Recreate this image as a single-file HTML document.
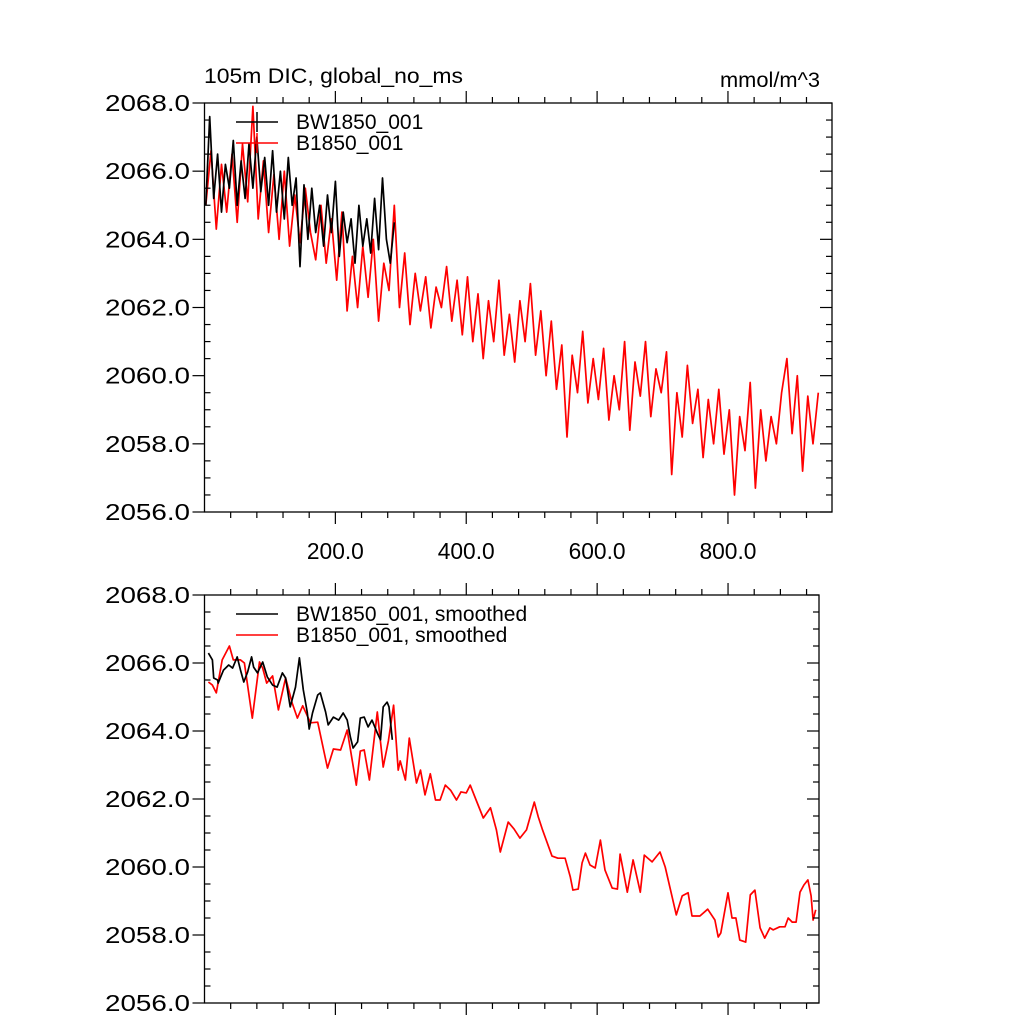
<!DOCTYPE html>
<html><head><meta charset="utf-8"><style>
html,body{margin:0;padding:0;background:#fff;}
svg text{font-family:"Liberation Sans",sans-serif;}
</style></head><body>
<svg id="chart" width="1024" height="1024" viewBox="0 0 1024 1024" xmlns="http://www.w3.org/2000/svg">
<text x="204" y="83" font-size="21" textLength="259" lengthAdjust="spacingAndGlyphs">105m DIC, global_no_ms</text>
<text x="720" y="87" font-size="21" textLength="100" lengthAdjust="spacingAndGlyphs">mmol/m^3</text>
<g id="top"></g>
<g id="bot"></g>
</svg>
<script>
// ---- data ----
const xTickValues = [200, 400, 600, 800];
const xTickLabels = ["200.0", "400.0", "600.0", "800.0"];
const yTickValues = [2056, 2058, 2060, 2062, 2064, 2066, 2068];
const yTickLabels = ["2056.0", "2058.0", "2060.0", "2062.0", "2064.0", "2066.0", "2068.0"];
const redRawStart = 2, redRawStep = 8;
const redRaw = [2065.0,2066.6,2064.3,2066.2,2064.8,2066.5,2064.5,2066.8,2065.1,2067.9,2064.6,2066.3,2064.2,
2065.9,2064.0,2066.0,2063.8,2065.3,2063.9,2065.5,2064.2,2063.4,2065.0,2063.3,2064.6,
2062.8,2064.8,2061.9,2063.5,2062.0,2063.8,2062.3,2064.0,2061.6,2063.3,2062.5,2065.0,
2062.0,2063.6,2061.5,2063.0,2061.9,2062.9,2061.4,2062.6,2062.0,2063.2,2061.6,2062.8,2061.2,
2062.9,2061.0,2062.4,2060.5,2062.2,2061.0,2062.8,2060.6,2061.8,2060.4,2062.2,2061.0,2062.7,
2060.6,2061.9,2060.0,2061.6,2059.6,2060.9,2058.2,2060.6,2059.5,2061.3,2059.2,2060.5,
2059.3,2060.8,2058.7,2060.0,2059.0,2061.0,2058.4,2060.4,2059.4,2061.0,2058.8,2060.2,2059.5,
2060.7,2057.1,2059.5,2058.2,2060.3,2058.6,2059.6,2057.6,2059.3,2058.0,2059.6,2057.7,2059.0,
2056.5,2058.8,2057.8,2059.8,2056.7,2059.0,2057.5,2058.8,2058.0,2059.5,2060.5,2058.3,2060.0,2057.2,2059.4,2058.0,2059.5];
const blackRawStart = 2, blackRawStep = 6;
const blackRaw = [2065.0,2067.6,2065.2,2066.5,2064.8,2066.2,2065.5,2066.9,2065.0,2066.3,2065.2,2066.8,2065.5,2067.0,2065.4,2066.4,2065.0,2066.6,2064.8,2066.0,2064.6,2066.4,2065.0,2065.8,2063.2,2065.6,2064.0,2065.5,2064.2,2065.0,2063.8,2065.3,2064.2,2065.7,2063.5,2064.8,2063.9,2064.6,2063.3,2065.0,2063.8,2064.6,2063.6,2065.2,2063.7,2065.8,2064.0,2063.3,2064.5];
const redSmoothX = [6,12,18,27,38,44,55,61,73,84,89,95,104,113,124,134,142,150,162,173,188,197,208,218,232,238,244,252,264,273,281,289,296,299,307,313,324,330,337,345,353,360,368,376,385,392,400,406,415,426,437,446,452,464,473,482,492,504,510,516,531,540,551,559,563,571,577,582,589,597,605,612,623,631,635,646,655,666,672,684,696,704,721,730,739,745,757,769,780,785,789,800,806,812,818,827,834,841,849,856,864,869,879,887,892,898,904,910,916,922,927,930,934];
const redSmoothY = [2065.44,2065.35,2065.12,2066.09,2066.5,2066.09,2066.09,2066.0,2064.38,2066.03,2065.85,2065.41,2065.62,2064.62,2065.56,2064.82,2064.38,2064.74,2064.24,2064.26,2062.91,2063.47,2063.44,2064.03,2062.41,2063.41,2063.44,2062.56,2064.56,2062.94,2063.71,2064.76,2062.85,2063.12,2062.56,2063.79,2062.47,2062.85,2062.12,2062.74,2061.97,2061.97,2062.41,2062.26,2061.97,2062.21,2062.18,2062.41,2061.97,2061.44,2061.74,2061.09,2060.44,2061.32,2061.12,2060.85,2061.09,2061.91,2061.47,2061.12,2060.32,2060.26,2060.26,2059.71,2059.32,2059.35,2060.12,2060.41,2060.06,2059.97,2060.79,2059.91,2059.38,2059.35,2060.38,2059.26,2060.21,2059.26,2060.35,2060.15,2060.44,2060.0,2058.59,2059.15,2059.24,2058.56,2058.56,2058.76,2058.44,2057.94,2058.06,2059.24,2058.5,2058.5,2057.85,2057.79,2059.18,2059.32,2058.21,2057.91,2058.21,2058.15,2058.24,2058.24,2058.5,2058.38,2058.38,2059.26,2059.47,2059.62,2059.15,2058.44,2058.74];
const blackSmoothX = [6,12,14,20,21,29,37,43,50,55,60,66,72,75,81,89,96,104,111,119,124,131,139,145,151,157,160,165,173,177,185,189,197,205,212,218,223,227,234,238,244,250,256,264,269,273,279,282,287];
const blackSmoothY = [2066.29,2066.09,2065.56,2065.5,2065.41,2065.79,2065.94,2065.85,2066.18,2065.79,2065.44,2065.74,2066.18,2065.88,2065.71,2066.03,2065.59,2065.35,2065.29,2065.71,2065.56,2064.71,2065.29,2066.15,2065.21,2064.56,2064.06,2064.53,2065.06,2065.12,2064.56,2064.18,2064.41,2064.32,2064.53,2064.32,2063.82,2063.5,2063.68,2064.38,2064.41,2064.12,2064.32,2063.94,2063.74,2064.71,2064.85,2064.71,2063.74];

const NS = "http://www.w3.org/2000/svg";
function mk(parent, tag, attrs){const e=document.createElementNS(NS,tag);for(const k in attrs)e.setAttribute(k,attrs[k]);parent.appendChild(e);return e;}

function panel(g, top, bottom, right, xmax, showXLabels, series, legend){
  const left=204.5, xmin=0, ymin=2056, ymax=2068;
  const sx=v=>left+(v-xmin)/(xmax-xmin)*(right-left);
  const sy=v=>bottom-(v-ymin)/(ymax-ymin)*(bottom-top);
  const cid='clip'+top;
  const cp=mk(g,'clipPath',{id:cid}); mk(cp,'rect',{x:left,y:top,width:right-left,height:bottom-top});
  series.forEach(s=>{
    let d='';
    s.xs.forEach((x,i)=>{d+=(i?'L':'M')+sx(x).toFixed(1)+','+sy(s.ys[i]).toFixed(1);});
    const p=mk(g,'path',{d:d,fill:'none',stroke:s.color,'stroke-width':1.7,'stroke-linejoin':'round','clip-path':'url(#'+cid+')'});
    
    
  });
  const fr=mk(g,'rect',{x:left,y:top,width:right-left,height:bottom-top,fill:'none',stroke:'#000','stroke-width':1.3});
  
  
  for(let v=40; v<xmax; v+=40){
    const major = v%200===0, L = major?12:6, x=sx(v);
    mk(g,'line',{x1:x,y1:top,x2:x,y2:top-L,stroke:'#000','stroke-width':1.2});
    mk(g,'line',{x1:x,y1:bottom,x2:x,y2:bottom+L,stroke:'#000','stroke-width':1.2});
  }
  if(showXLabels){
    xTickValues.forEach((v,i)=>{
      const t=mk(g,'text',{x:sx(v)-28.5,y:bottom+47,'font-size':23,textLength:57,lengthAdjust:'spacingAndGlyphs'});
      t.textContent=xTickLabels[i];
      
      
    });
  }
  for(let v=ymin; v<=ymax+1e-6; v+=0.5){
    const y=sy(v), major=Math.abs(v-Math.round(v/2)*2)<1e-6;
    if(major){
      mk(g,'line',{x1:left-12,y1:y,x2:left,y2:y,stroke:'#000','stroke-width':1.2});
      mk(g,'line',{x1:right-12,y1:y,x2:right,y2:y,stroke:'#000','stroke-width':1.2});
    } else {
      mk(g,'line',{x1:left,y1:y,x2:left+6,y2:y,stroke:'#000','stroke-width':1.2});
      mk(g,'line',{x1:right-6,y1:y,x2:right,y2:y,stroke:'#000','stroke-width':1.2});
    }
  }
  yTickValues.forEach((v,i)=>{
    const t=mk(g,'text',{x:105,y:sy(v)+8,'font-size':23,textLength:85,lengthAdjust:'spacingAndGlyphs'});
    t.textContent=yTickLabels[i];
    
    
  });
  legend.forEach((l,i)=>{
    const y=top+19+i*21;
    const lg=mk(g,'g',{});
    
    
    mk(lg,'line',{x1:236,y1:y,x2:278,y2:y,stroke:l.color,'stroke-width':1.5});
    if(l.plus){ mk(lg,'line',{x1:257,y1:y-10,x2:257,y2:y+10,stroke:l.color,'stroke-width':1.5}); }
    const t=mk(lg,'text',{x:296,y:y+7,'font-size':21});
    t.textContent=l.label;
  });
}

const redRawX = redRaw.map((v,i)=>redRawStart+i*redRawStep);
const blackRawX = blackRaw.map((v,i)=>blackRawStart+i*blackRawStep);
panel(document.getElementById('top'),103,512,832,959,true,
 [{xs:redRawX,ys:redRaw,color:'#ff0000',name:'b1850-raw-line'},{xs:blackRawX,ys:blackRaw,color:'#000000',name:'bw1850-raw-line'}],
 [{label:'BW1850_001',color:'#000',plus:true},{label:'B1850_001',color:'#ff0000',plus:true}]);
panel(document.getElementById('bot'),595,1003,819,939,false,
 [{xs:redSmoothX,ys:redSmoothY,color:'#ff0000',name:'b1850-smoothed-line'},{xs:blackSmoothX,ys:blackSmoothY,color:'#000000',name:'bw1850-smoothed-line'}],
 [{label:'BW1850_001, smoothed',color:'#000',plus:false},{label:'B1850_001, smoothed',color:'#ff0000',plus:false}]);
</script>
</body></html>
